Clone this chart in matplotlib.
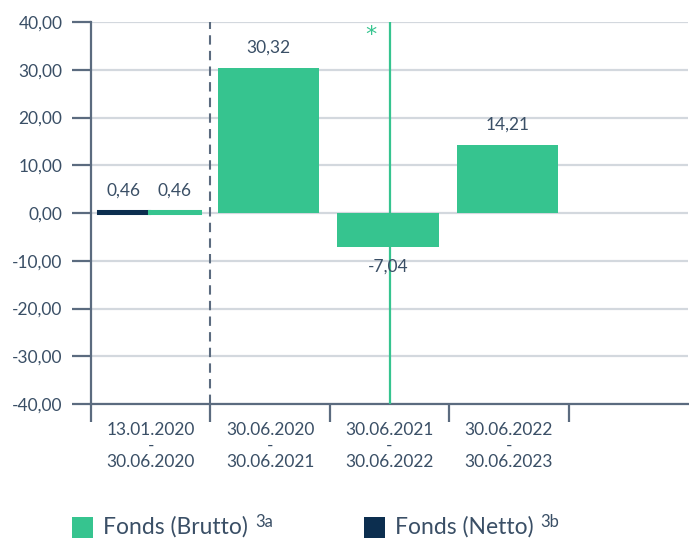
import matplotlib
matplotlib.use("Agg")
import matplotlib.pyplot as plt
from matplotlib.patches import Rectangle
import numpy as np

plt.rcParams['font.family'] = ['Lato', 'DejaVu Sans']

# ---- data ----
periods = ["13.01.2020\n-\n30.06.2020", "30.06.2020\n-\n30.06.2021",
           "30.06.2021\n-\n30.06.2022", "30.06.2022\n-\n30.06.2023"]
brutto = [0.46, 30.32, -7.04, 14.21]
netto = [0.46, None, None, None]
brutto_labels = ["0,46", "30,32", "-7,04", "14,21"]
netto_labels = ["0,46", None, None, None]
yticks = [-40, -30, -20, -10, 0, 10, 20, 30, 40]
ytick_labels = ["-40,00", "-30,00", "-20,00", "-10,00", "0,00", "10,00", "20,00", "30,00", "40,00"]
legend_names = ["Fonds (Brutto)", "Fonds (Netto)"]
legend_sups = ["3a", "3b"]

GREEN = "#36C48F"
NAVY = "#0C2E4F"
AXIS = "#5B6B7F"
GRID = "#D3D8DE"
TEXT = "#3A4F66"
FS = 12.5

fig = plt.figure(figsize=(6.89, 5.38), dpi=100)
ax = fig.add_axes([91/689, 1-404/538, (688-91)/689, (404-22)/538])

ax.set_xlim(0, 5)
ax.set_ylim(-40, 40)

ax.set_yticks(yticks)
ax.set_yticklabels(ytick_labels, fontsize=FS, color=TEXT)
ax.yaxis.grid(True, color=GRID, linewidth=1.6)
ax.set_axisbelow(True)

for s in ["top", "right"]:
    ax.spines[s].set_visible(False)
for s in ["left", "bottom"]:
    ax.spines[s].set_color(AXIS)
    ax.spines[s].set_linewidth(1.6)

ax.tick_params(axis='y', direction='out', length=13.5, width=1.6, color=AXIS, pad=7)

ax.set_xticks([0, 1, 2, 3, 4])
ax.set_xticklabels([])
ax.tick_params(axis='x', which='major', direction='out', length=13, width=1.6, color=AXIS)
centers = np.arange(len(periods)) + 0.5
ax.set_xticks(centers, minor=True)
ax.set_xticklabels(periods, minor=True, fontsize=FS, color=TEXT, linespacing=1.0)
ax.tick_params(axis='x', which='minor', length=0, pad=13)

full_w = 0.85
shift = -0.013
for i, (b, n) in enumerate(zip(brutto, netto)):
    c = centers[i] + shift
    if n is not None:
        w = full_w / 2
        ax.bar(c - w/2, n, width=w, color=NAVY, edgecolor=NAVY, linewidth=2.2, zorder=3)
        ax.bar(c + w/2, b, width=w, color=GREEN, edgecolor=GREEN, linewidth=2.2, zorder=3)
        ax.annotate(netto_labels[i], (c - w/2, n), xytext=(0, 9), textcoords='offset points',
                    ha='center', va='bottom', fontsize=FS, color=TEXT, zorder=5)
        ax.annotate(brutto_labels[i], (c + w/2, b), xytext=(0, 9), textcoords='offset points',
                    ha='center', va='bottom', fontsize=FS, color=TEXT, zorder=5)
    else:
        ax.bar(c, b, width=full_w, color=GREEN, linewidth=0, zorder=3)
        off = 9 if b >= 0 else -9
        ax.annotate(brutto_labels[i], (c, b), xytext=(0, off), textcoords='offset points',
                    ha='center', va='bottom' if b >= 0 else 'top', fontsize=FS, color=TEXT, zorder=5)

ax.axvline(1.0, color=AXIS, linewidth=1.5, linestyle=(0, (4.5, 3)), zorder=4)
ax.axvline(2.5, color=GREEN, linewidth=1.6, zorder=4)
ax.text(2.345, 37.3, "*", color=GREEN, fontsize=16, ha='center', va='center',
        family='DejaVu Sans', zorder=5)

items = [(72, GREEN), (364, NAVY)]
for (x0, col), name, sup in zip(items, legend_names, legend_sups):
    fig.add_artist(Rectangle((x0/689, 0), 21/689, 21/538, transform=fig.transFigure,
                             facecolor=col, edgecolor='none'))
    t = fig.text((x0+31)/689, 1-527/538, name, fontsize=16.5, color=TEXT, ha='left', va='center')
    fig.canvas.draw()
    bb = t.get_window_extent()
    fig.text((bb.x1 + 7)/689, 1-522/538, sup, fontsize=12, color=TEXT, ha='left', va='center')

fig.savefig("out.png", dpi=100)
